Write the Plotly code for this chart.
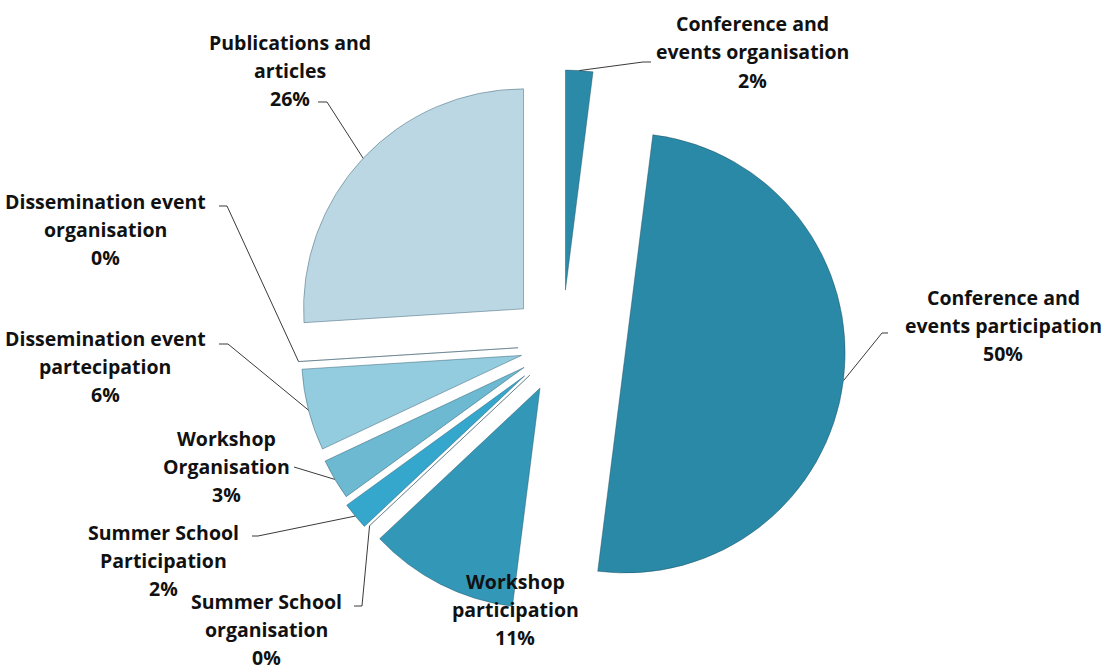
import math
import plotly.graph_objects as go

# ---------------- data ----------------
categories = [
    "Conference and events organisation",
    "Conference and events participation",
    "Workshop participation",
    "Summer School organisation",
    "Summer School Participation",
    "Workshop Organisation",
    "Dissemination event partecipation",
    "Dissemination event organisation",
    "Publications and articles",
]
values = [2, 50, 11, 0, 2, 3, 6, 0, 26]
label_lines = [
    ["Conference and", "events organisation"],
    ["Conference and", "events participation"],
    ["Workshop", "participation"],
    ["Summer School", "organisation"],
    ["Summer School", "Participation"],
    ["Workshop", "Organisation"],
    ["Dissemination event", "partecipation"],
    ["Dissemination event", "organisation"],
    ["Publications and", "articles"],
]

# ---------------- style ----------------
colors = ["#2B8AA8", "#2A89A6", "#3398B8", "#3AAACC", "#36A7CC",
          "#6DB9D1", "#93CBDF", "#A8D4E3", "#BAD7E3"]
pulls = [0.25, 0.29, 0.22, 0.2, 0.22, 0.2, 0.19, 0.2, 0.24]

W, H = 1101, 671
dom_x = [0.2527, 0.7682]
dom_y = [0.0629, 0.9088]

# label block centre x, first-line y (px) and leader elbow points (px)
label_pos = [
    (752, 24, [(643, 62), (651, 62)]),
    (1003, 297, [(882, 333), (888, 333)]),
    (515, 581, None),
    (266, 601, [(362, 606), (354, 606)]),
    (163, 532, [(258, 536), (252, 536)]),
    (226, 438, [(294, 467)]),
    (105, 338, [(228, 344), (219, 344)]),
    (105, 201, [(227, 206), (219, 206)]),
    (290, 43, [(327, 102), (318, 102)]),
]
LINE_H = 28

fig = go.Figure()
fig.add_trace(go.Pie(
    labels=categories, values=values, sort=False, direction="clockwise",
    rotation=0, pull=pulls, textinfo="none", hoverinfo="skip",
    marker=dict(colors=colors, line=dict(color="rgba(30,70,90,0.4)", width=1)),
    domain=dict(x=dom_x, y=dom_y), showlegend=False,
))

# geometry replicating plotly's pie scaling
box_w = W * (dom_x[1] - dom_x[0])
box_h = H * (dom_y[1] - dom_y[0])
R = min(box_w, box_h) / (2 + 2 * max(pulls))
cx = W * (dom_x[0] + dom_x[1]) / 2
cy = H * (1 - dom_y[0]) - box_h / 2
total = sum(values)

def px(x, y):
    return x / W, 1 - y / H

annotations = []
shapes = []
cum = 0
for i, v in enumerate(values):
    mid = (cum + v / 2) / total * 360
    cum += v
    pct = f"{round(v / total * 100)}%"
    lx, ly, elbow = label_pos[i]
    lines = label_lines[i] + [pct]
    for k, t in enumerate(lines):
        ax, ay = px(lx, ly + k * LINE_H)
        annotations.append(dict(
            x=ax, y=ay, xref="paper", yref="paper", text=t, showarrow=False,
            xanchor="center", yanchor="middle",
            font=dict(family="Open Sans", size=19.5, color="#111111", weight=700),
        ))
    if elbow:
        rr = (1 + pulls[i]) * R
        th = math.radians(mid)
        sx = cx + rr * math.sin(th)
        sy = cy - rr * math.cos(th)
        pts = [(sx, sy)] + elbow
        path = ""
        for j, (x, y) in enumerate(pts):
            qx, qy = px(x, y)
            path += ("M " if j == 0 else " L ") + f"{qx:.5f} {qy:.5f}"
        shapes.append(dict(type="path", path=path, xref="paper", yref="paper",
                           line=dict(color="#3a3a3a", width=1)))

fig.update_layout(
    width=W, height=H, margin=dict(l=0, r=0, t=0, b=0),
    paper_bgcolor="white", plot_bgcolor="white",
    annotations=annotations, shapes=shapes, showlegend=False,
)
fig.write_html("out.html")
